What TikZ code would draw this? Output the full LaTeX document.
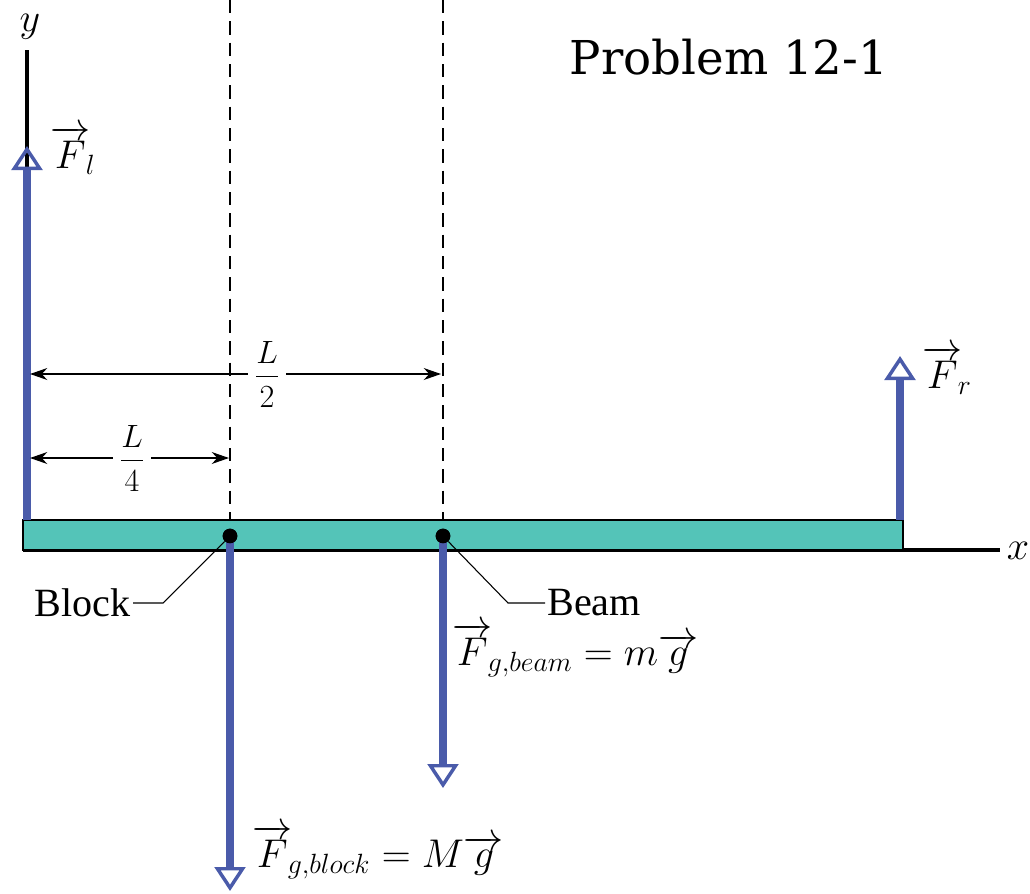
\documentclass[tikz,border=0pt]{standalone}
\usepackage{amsmath}
\usepackage{fontspec}
\setmainfont{Liberation Serif}
\newfontfamily\lblfont{Liberation Serif}
\newfontfamily\probfont{DejaVu Serif}
\usetikzlibrary{arrows.meta}
\definecolor{forceblue}{RGB}{74,91,170}
\definecolor{beamteal}{RGB}{84,196,184}

\tikzset{
  force/.style={draw=forceblue, line width=5.8pt, -{Triangle[open,length=18pt,width=23pt,line width=2.6pt]}},
  dimline/.style={line width=0.9pt, {Stealth[length=13pt,width=9pt]}-{Stealth[length=13pt,width=9pt]}},
  guide/.style={line width=0.9pt, dash pattern=on 10pt off 6pt},
  axisline/.style={line width=2.6pt},
  lbl/.style={font=\lblfont\fontsize{20.74}{25}\selectfont, scale=1.45, inner sep=1pt},
  fraclbl/.style={font=\fontsize{17.28}{21}\selectfont, scale=1.4, fill=white, inner sep=3pt},
  dot/.style={circle, fill=black, inner sep=0pt, minimum size=11pt},
}

\begin{document}
\begin{tikzpicture}[x=0.75pt,y=0.75pt,yscale=-1,xscale=1]
\useasboundingbox (0,0) rectangle (1030,893);

% points on the beam
\coordinate (ltop) at (27,520);
\coordinate (rtop) at (900,520);
\coordinate (ytip) at (27,50);
\coordinate (xend) at (1000,550);
\coordinate (xstart) at (23,550);

%Dashed guides
\draw [guide] (230,0) -- (230,520);
\draw [guide] (443,0) -- (443,520);

%Axes
\draw [axisline] (ltop) -- (ytip);
\draw [axisline] (xstart) -- (xend);

%Shape: Beam
\draw [fill=beamteal, line width=1.2pt] (23,520) rectangle (903,550);

% dots
\node [dot] (dotblock) at (230,536) {};
\node [dot] (dotbeam) at (443,536) {};

% Text Node
\node [lbl, anchor=east] (blocklbl) at (133,603) {Block};
% Text Node
\node [lbl, anchor=west] (beamlbl) at (545,603) {Beam};

%Leaders
\draw [line width=0.8pt] (blocklbl.east) -- ++(30,0) -- (dotblock);
\draw [line width=0.8pt] (beamlbl.west) -- ++(-37,0) -- (dotbeam);

%Forces
\coordinate (fltip) at (27,146);
\coordinate (frtip) at (900,356);
\coordinate (fbtip) at (230,891);
\coordinate (fmtip) at (443,788);
\draw [force] (ltop) -- (fltip);
\draw [force] (rtop) -- (frtip);
\draw [force] (dotblock.center) -- (fbtip);
\draw [force] (dotbeam.center) -- (fmtip);
\node [dot] at (dotblock) {};
\node [dot] at (dotbeam) {};

%Dimensions
\coordinate (half) at (441,374);
\coordinate (quarter) at (229,458);
\draw [dimline] (30,374) -- (half);
\draw [dimline] (30,458) -- (quarter);
% Text Node
\node [fraclbl] (halflbl) at (267,374) {$\dfrac{L}{2}$};
% Text Node
\node [fraclbl] (quarterlbl) at (132,458) {$\dfrac{L}{4}$};

% Text Node
\node [lbl] (ylbl) at (30,27) {$y$};
% Text Node
\node [lbl] (xlbl) at (1018,551) {$x$};
% Text Node
\node [lbl, anchor=west] (fllbl) at (48,150) {$\overrightarrow{F}_{\!l}$};
% Text Node
\node [lbl, anchor=west] (frlbl) at (920,370) {$\overrightarrow{F}_{\!r}$};
% Text Node
\node [lbl, anchor=west] (fmlbl) at (450,650) {$\overrightarrow{F}_{\!g,beam}=m\overrightarrow{g}$};
% Text Node
\node [lbl, anchor=west] (fblbl) at (250,852) {$\overrightarrow{F}_{\!g,block}=M\overrightarrow{g}$};

% Text Node
\node [font=\probfont\fontsize{35}{42}\selectfont] (title) at (729,57) {Problem 12-1};

\end{tikzpicture}
\end{document}
